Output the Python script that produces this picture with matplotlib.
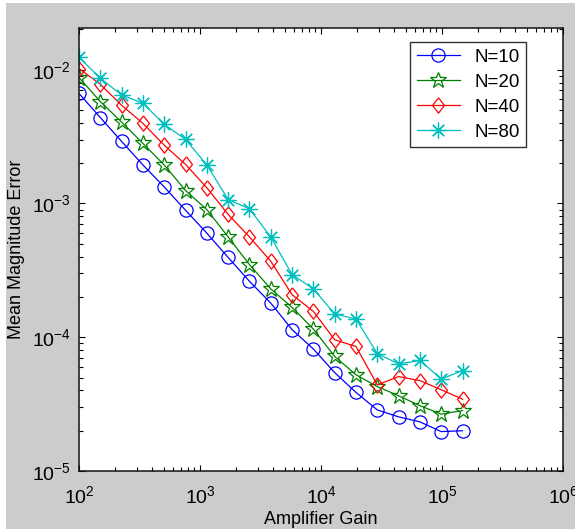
import matplotlib
matplotlib.use("Agg")
import matplotlib.pyplot as plt
from matplotlib.patches import Rectangle
from matplotlib.ticker import LogLocator, LogFormatterSciNotation, NullFormatter

plt.rcParams['font.family'] = ['Liberation Sans', 'DejaVu Sans']
plt.rcParams['mathtext.default'] = 'regular'

# Data
gain = [100, 150, 225, 337.5, 506, 759, 1139, 1709, 2563, 3844, 5767, 8650,
        12975, 19462, 29193, 43789, 65684, 98526, 147789]
err_n10 = [6.64e-3, 4.39e-3, 2.91e-3, 1.94e-3, 1.33e-3, 8.9e-4, 6.0e-4, 3.95e-4,
           2.62e-4, 1.80e-4, 1.14e-4, 8.17e-5, 5.44e-5, 3.87e-5, 2.86e-5, 2.54e-5,
           2.33e-5, 1.97e-5, 2.00e-5]
err_n20 = [8.73e-3, 5.78e-3, 4.06e-3, 2.81e-3, 1.94e-3, 1.25e-3, 9.0e-4, 5.62e-4,
           3.49e-4, 2.30e-4, 1.67e-4, 1.15e-4, 7.18e-5, 5.24e-5, 4.28e-5, 3.65e-5,
           3.08e-5, 2.66e-5, 2.83e-5]
err_n40 = [1.02e-2, 7.78e-3, 5.42e-3, 3.97e-3, 2.73e-3, 1.96e-3, 1.31e-3, 8.28e-4,
           5.62e-4, 3.70e-4, 2.08e-4, 1.56e-4, 9.57e-5, 8.53e-5, 4.40e-5, 5.08e-5,
           4.74e-5, 4.05e-5, 3.44e-5]
err_n80 = [1.24e-2, 8.63e-3, 6.47e-3, 5.61e-3, 3.91e-3, 3.01e-3, 1.94e-3, 1.07e-3,
           9.12e-4, 5.62e-4, 2.94e-4, 2.30e-4, 1.49e-4, 1.37e-4, 7.52e-5, 6.33e-5,
           6.70e-5, 4.87e-5, 5.63e-5]
labels = ['N=10', 'N=20', 'N=40', 'N=80']

W, H = 575, 529
fig = plt.figure(figsize=(W / 100, H / 100), dpi=100, facecolor='white')
fig.patches.append(Rectangle((6 / W, 0), 1 - 6 / W, 1 - 3 / H, transform=fig.transFigure,
                             facecolor='#cccccc', edgecolor='none', zorder=-10))

ax = fig.add_axes([79 / W, (H - 471) / H, 484 / W, 443 / H])
ax.set_facecolor('white')

diamond = [(0, 1), (0.78, 0), (0, -1), (-0.78, 0), (0, 1)]
styles = [
    dict(color=(0, 0, 1), marker='o', ms=9.5),
    dict(color=(0, 0.5, 0), marker='*', ms=12),
    dict(color=(1, 0, 0), marker=diamond, ms=11),
    dict(color=(0, 0.75, 0.75), marker=(8, 2, 0), ms=11.5),
]
for ys, lab, st in zip([err_n10, err_n20, err_n40, err_n80], labels, styles):
    ax.plot(gain, ys, '-', color=st['color'], lw=0.9, marker=st['marker'],
            ms=st['ms'], mfc='none', mec=st['color'], mew=0.9, label=lab)

ax.set_xscale('log')
ax.set_yscale('log')
ax.set_xlim(1e2, 1e6)
ax.set_ylim(1e-5, 2.05e-2)

ax.xaxis.set_major_locator(LogLocator(base=10, numticks=10))
ax.yaxis.set_major_locator(LogLocator(base=10, numticks=10))
ax.xaxis.set_minor_locator(LogLocator(base=10, subs=range(2, 10), numticks=20))
ax.yaxis.set_minor_locator(LogLocator(base=10, subs=range(2, 10), numticks=20))
ax.xaxis.set_major_formatter(LogFormatterSciNotation())
ax.yaxis.set_major_formatter(LogFormatterSciNotation())
ax.xaxis.set_minor_formatter(NullFormatter())
ax.yaxis.set_minor_formatter(NullFormatter())

ax.tick_params(which='both', direction='in', top=True, right=True, colors='black',
               labelsize=14)
ax.tick_params(which='major', length=4, width=0.8)
ax.tick_params(which='minor', length=3, width=0.8)
ax.tick_params(axis='x', which='major', pad=10)
ax.tick_params(axis='y', which='major', pad=6)
for s in ax.spines.values():
    s.set_linewidth(1.1)
    s.set_color('#111111')

ax.set_xlabel('Amplifier Gain', fontsize=13, labelpad=3)
ax.set_ylabel('Mean Magnitude Error', fontsize=13, labelpad=5)

leg = ax.legend(loc='upper right', bbox_to_anchor=(526 / W, (H - 42) / H),
                bbox_transform=fig.transFigure, fontsize=13.5, frameon=True,
                fancybox=False, edgecolor='black', handlelength=2.3,
                borderpad=0.35, labelspacing=0.42, handletextpad=0.75,
                borderaxespad=0)
leg.get_frame().set_linewidth(1.0)

fig.savefig('out.png', dpi=100, facecolor=fig.get_facecolor())
